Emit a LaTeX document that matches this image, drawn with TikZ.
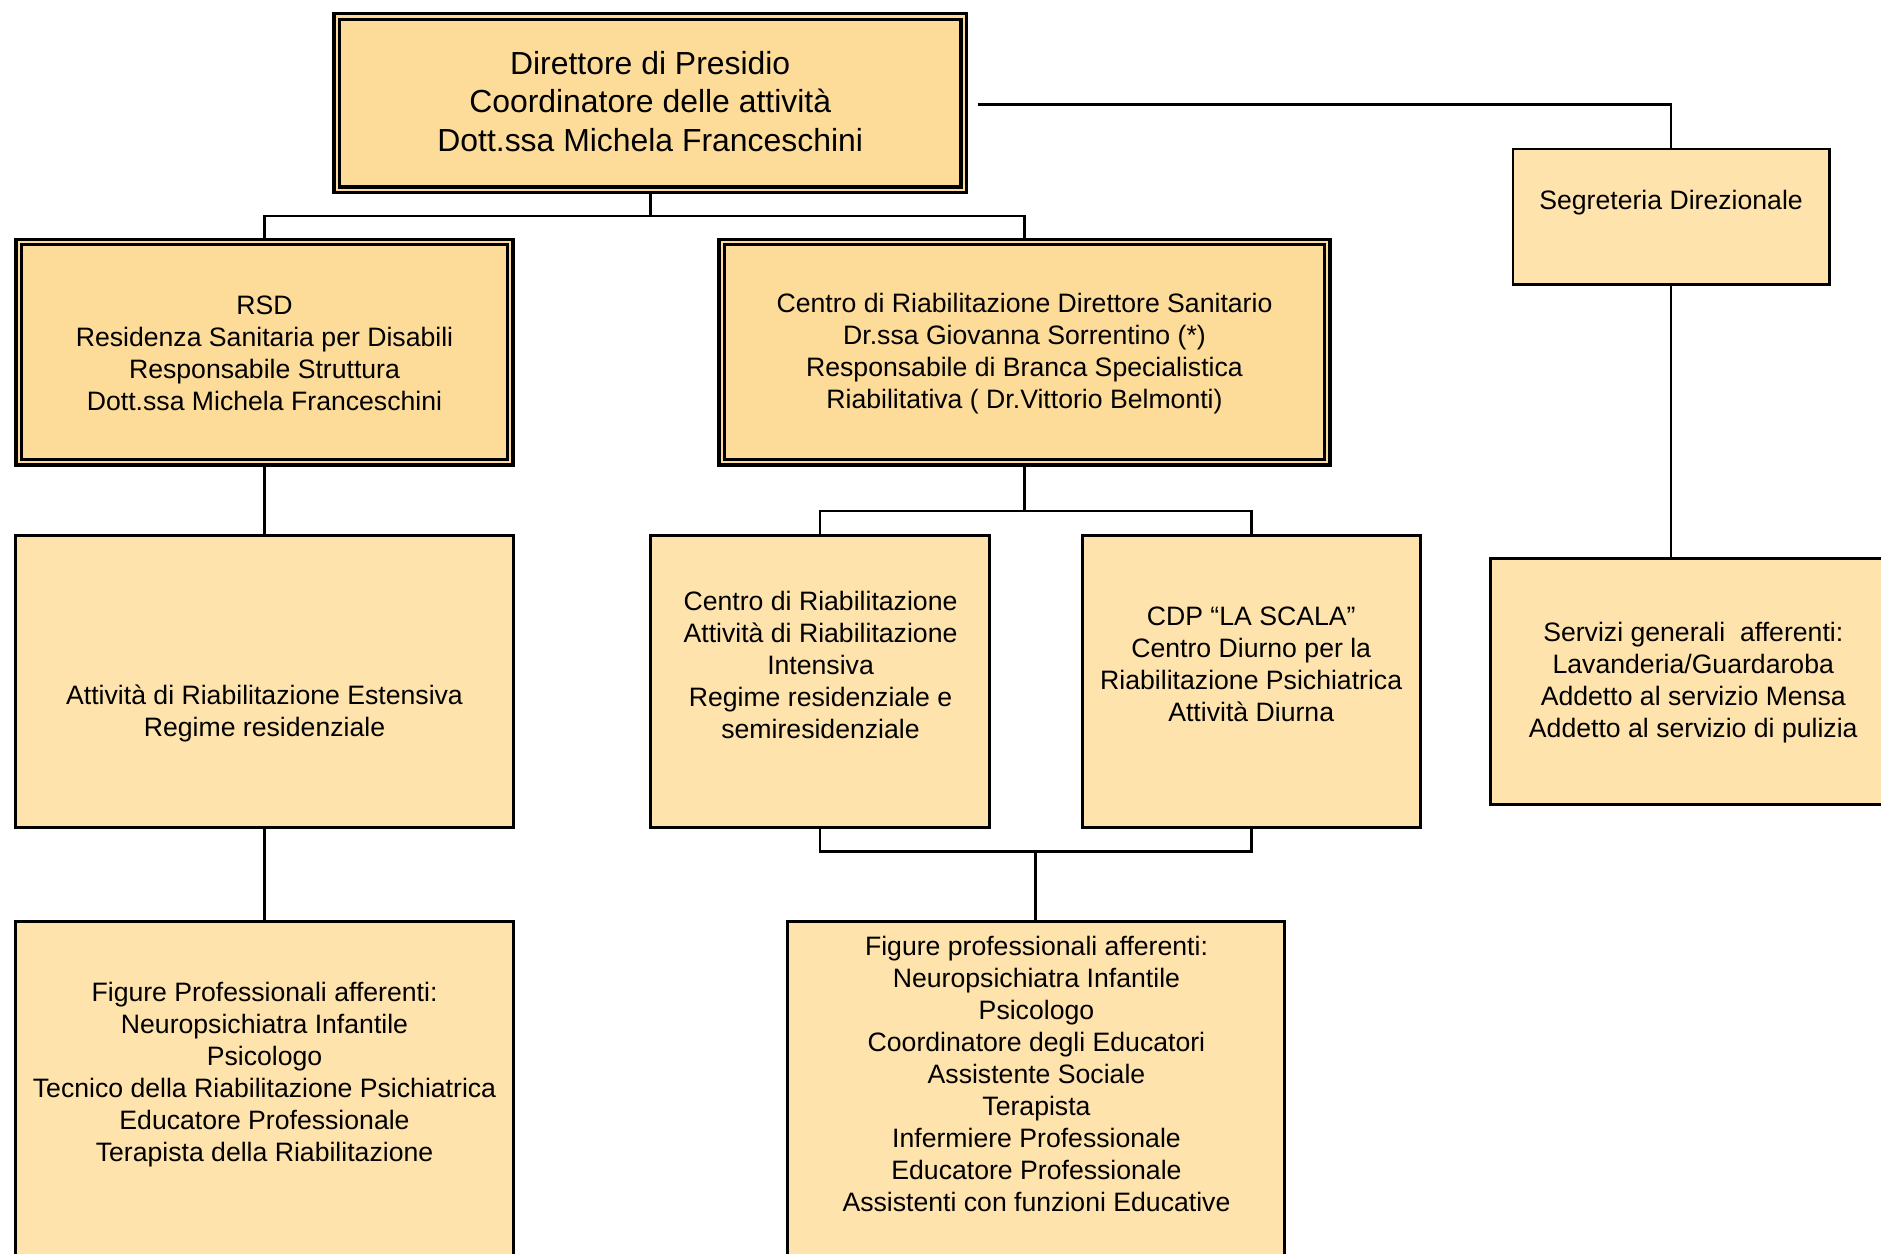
\documentclass[tikz,border=0pt]{standalone}
\usepackage{fontspec}
\setmainfont{Liberation Sans}
\definecolor{dblfill}{RGB}{253,219,152}
\definecolor{sngfill}{RGB}{255,227,173}
\begin{document}
\begin{tikzpicture}[x=0.5pt,y=-0.5pt,
  dblbox/.style={draw=black, fill=dblfill, line width=1.4pt, double=dblfill, double distance=0.9pt, inner sep=0pt},
  sngbox/.style={draw=black, fill=sngfill, line width=1.2pt, inner sep=0pt},
  txt/.style={font=\fontsize{11.1}{13.35}\selectfont, align=center, inner sep=0pt},
  bigtxt/.style={font=\fontsize{13.3}{16}\selectfont, align=center, inner sep=0pt},
  conn/.style={draw=black, line width=1.1pt}]
\useasboundingbox (0,0) rectangle (1568,1045);
% boxes
\node[dblbox, minimum width=261.3pt, minimum height=72.3pt] (top) at (542,86) {};
\node[dblbox, minimum width=204.8pt, minimum height=91.8pt] (rsd) at (220.5,293.5) {};
\node[dblbox, minimum width=252.3pt, minimum height=91.8pt] (cen) at (854,293.5) {};
\node[sngbox, minimum width=131.8pt, minimum height=56.3pt] (seg) at (1393,180.5) {};
\node[sngbox, minimum width=207.3pt, minimum height=121.8pt] (est) at (220.5,568) {};
\node[sngbox, minimum width=141.3pt, minimum height=121.8pt] (b6) at (683.5,568) {};
\node[sngbox, minimum width=140.8pt, minimum height=121.8pt] (b7) at (1043,568) {};
\node[sngbox, minimum width=169.3pt, minimum height=102.8pt] (serv) at (1411.5,568) {};
\node[sngbox, minimum width=207.3pt, minimum height=145.3pt] (figl) at (220.5,913.5) {};
\node[sngbox, minimum width=207.3pt, minimum height=145.3pt] (figm) at (863.5,913.5) {};
% texts
\node[bigtxt] (topT) at (542,84.5) {Direttore di Presidio\\Coordinatore delle attività\\Dott.ssa Michela Franceschini};
\node[txt] (rsdT) at (220.5,294.5) {RSD\\Residenza Sanitaria per Disabili\\Responsabile Struttura\\Dott.ssa Michela Franceschini};
\node[txt] (cenT) at (854,295) {Centro di Riabilitazione Direttore Sanitario\\Dr.ssa Giovanna Sorrentino (*)\\Responsabile di Branca Specialistica\\Riabilitativa ( Dr.Vittorio Belmonti)};
\node[txt] (segT) at (1393,169) {Segreteria Direzionale};
\node[txt] (estT) at (220.5,595) {Attività di Riabilitazione Estensiva\\Regime residenziale};
\node[txt] (b6T) at (684,554) {Centro di Riabilitazione\\Attività di Riabilitazione\\Intensiva\\Regime residenziale e\\semiresidenziale};
\node[txt] (b7T) at (1043,554) {CDP “LA SCALA”\\Centro Diurno per la\\Riabilitazione Psichiatrica\\Attività Diurna};
\node[txt] (servT) at (1411.5,569) {Servizi generali\ \ afferenti:\\Lavanderia/Guardaroba\\Addetto al servizio Mensa\\Addetto al servizio di pulizia};
\node[txt] (figlT) at (220.5,895.5) {Figure Professionali afferenti:\\Neuropsichiatra Infantile\\Psicologo\\Tecnico della Riabilitazione Psichiatrica\\Educatore Professionale\\Terapista della Riabilitazione};
\node[txt] (figmT) at (864,895) {Figure professionali afferenti:\\Neuropsichiatra Infantile\\Psicologo\\Coordinatore degli Educatori\\Assistente Sociale\\Terapista\\Infermiere Professionale\\Educatore Professionale\\Assistenti con funzioni Educative};
% junctions
\coordinate (j1) at (542,180);
\coordinate (tr) at (815,87);
\coordinate (j2) at (854,426);
\coordinate (j3) at (863,710);
% connectors
\draw[conn] (top.south) -- (j1);
\draw[conn] (rsd.north) |- (j1) -| (cen.north);
\draw[conn] (tr) -| (seg.north);
\draw[conn] (seg.south) -- (seg.south |- serv.north);
\draw[conn] (rsd.south) -- (est.north);
\draw[conn] (est.south) -- (figl.north);
\draw[conn] (cen.south) -- (j2);
\draw[conn] (b6.north) |- (j2) -| (b7.north);
\draw[conn] (b6.south) |- (j3) -| (b7.south);
\draw[conn] (j3) -- (j3 |- figm.north);
\end{tikzpicture}
\end{document}
